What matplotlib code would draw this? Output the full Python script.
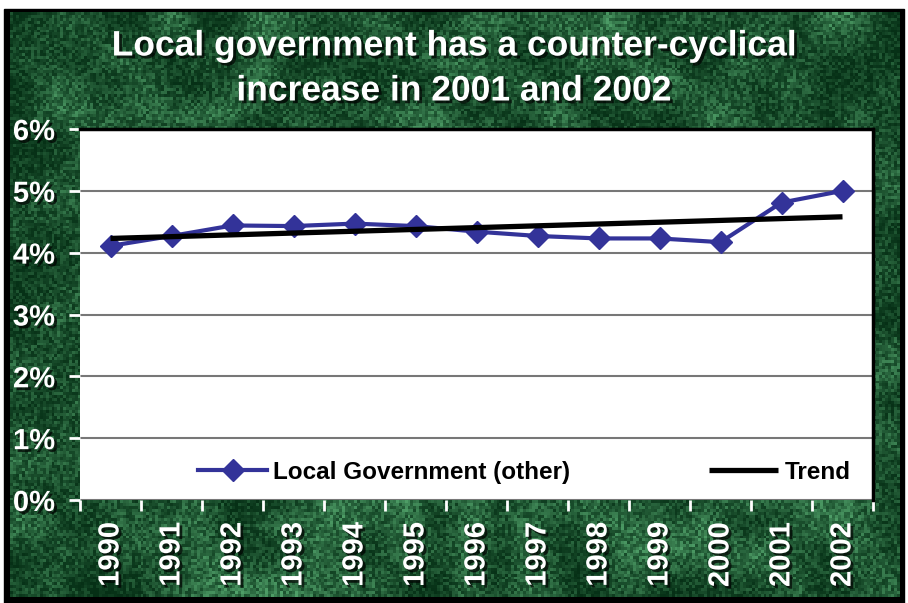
import numpy as np
import matplotlib
matplotlib.use('Agg')
import matplotlib.pyplot as plt
import matplotlib.patheffects as pe
from matplotlib.patches import Rectangle

years = ['1990', '1991', '1992', '1993', '1994', '1995', '1996',
         '1997', '1998', '1999', '2000', '2001', '2002']
local_gov = [4.11, 4.27, 4.44, 4.43, 4.47, 4.43, 4.34,
             4.27, 4.23, 4.23, 4.17, 4.81, 5.00]
trend_years = ['1990', '2002']
trend_values = [4.23, 4.58]
y_ticks = [0, 1, 2, 3, 4, 5, 6]

font = ['Liberation Sans', 'DejaVu Sans']
W, H = 908, 603


def box_blur(a, k):
    # separable moving average, edges padded by reflection
    p = np.pad(a, k, mode='reflect')
    c = np.cumsum(p, axis=0)
    p = (c[2 * k:] - np.vstack([np.zeros((1, c.shape[1])), c[:-2 * k - 1]]))[: a.shape[0]] / (2 * k + 1)
    c = np.cumsum(p, axis=1)
    p = (c[:, 2 * k:] - np.hstack([np.zeros((c.shape[0], 1)), c[:, :-2 * k - 1]]))[:, : a.shape[1]] / (2 * k + 1)
    return p


fig = plt.figure(figsize=(W / 100, H / 100), dpi=100)
fig.patch.set_facecolor('white')

# framed marble-green backdrop
bg = fig.add_axes([0, 0, 1, 1])
bg.axis('off')
bg.add_patch(Rectangle((4, 9), 900, 594, color='black', zorder=1))
rng = np.random.default_rng(11)
coarse = np.kron(rng.random((20, 30)), np.ones((10, 10)))
coarse = box_blur(coarse, 6)
coarse = (coarse - coarse.min()) / (coarse.max() - coarse.min())
fine = rng.random((200, 300))
tex = np.clip(0.6 * coarse + 0.55 * fine - 0.1, 0, 1)
dark = np.array([6, 48, 22]) / 255
light = np.array([80, 160, 105]) / 255
img = dark + (light - dark) * (tex[..., None] ** 1.6)
bg.imshow(img, extent=(10, 900, 597, 12), interpolation='nearest',
          aspect='auto', zorder=2)
bg.set_xlim(0, W)
bg.set_ylim(H, 0)

shadow = [pe.withSimplePatchShadow(offset=(2, -2), shadow_rgbFace='black', alpha=0.7)]
fig.text(0.5, 1 - 46 / H, 'Local government has a counter-cyclical',
         ha='center', va='center', color='white', fontsize=25.5,
         fontweight='bold', family=font, path_effects=shadow)
fig.text(0.5, 1 - 91 / H, 'increase in 2001 and 2002',
         ha='center', va='center', color='white', fontsize=25.5,
         fontweight='bold', family=font, path_effects=shadow)

ax = fig.add_axes([80 / W, 1 - 500 / H, (873 - 80) / W, (500 - 129) / H])
ax.set_facecolor('white')
x = np.arange(len(years))
ax.plot(x, local_gov, color='#333399', lw=3, marker='D', ms=11,
        label='Local Government (other)', zorder=3)
tx = [years.index(y) for y in trend_years]
ax.plot(tx, trend_values, color='black', lw=3.8, label='Trend',
        solid_capstyle='butt', zorder=4)

ax.set_xlim(-0.5, len(years) - 0.5)
ax.set_ylim(0, 6)
ax.set_yticks(y_ticks)
ax.set_yticklabels([f'{v}%' for v in y_ticks])
ax.yaxis.grid(True, color='#777777', lw=1.5)
ax.set_axisbelow(True)

ax.set_xticks(x)
ax.set_xticklabels(years, rotation=90)
ax.set_xticks(np.arange(len(years) + 1) - 0.5, minor=True)
ax.tick_params(axis='x', which='major', length=0, pad=16)
ax.tick_params(axis='x', which='minor', length=8, width=2, color='white')
ax.tick_params(axis='y', length=8, width=2, color='white', pad=10)
for lab in ax.get_xticklabels() + ax.get_yticklabels():
    lab.set_color('white')
    lab.set_fontweight('bold')
    lab.set_fontsize(21)
    lab.set_family(font)
    lab.set_path_effects(shadow)

for side in ['left', 'bottom']:
    ax.spines[side].set_visible(False)
for side in ['top', 'right']:
    ax.spines[side].set_color('black')
    ax.spines[side].set_linewidth(2.5)

leg = ax.legend(loc='center', bbox_to_anchor=(0.56, 0.075), ncol=2,
                frameon=False, handlelength=2.85, handletextpad=0.25,
                columnspacing=5.7, borderpad=0,
                prop={'family': font, 'weight': 'bold', 'size': 17.5})

fig.savefig('out.png', dpi=100)
